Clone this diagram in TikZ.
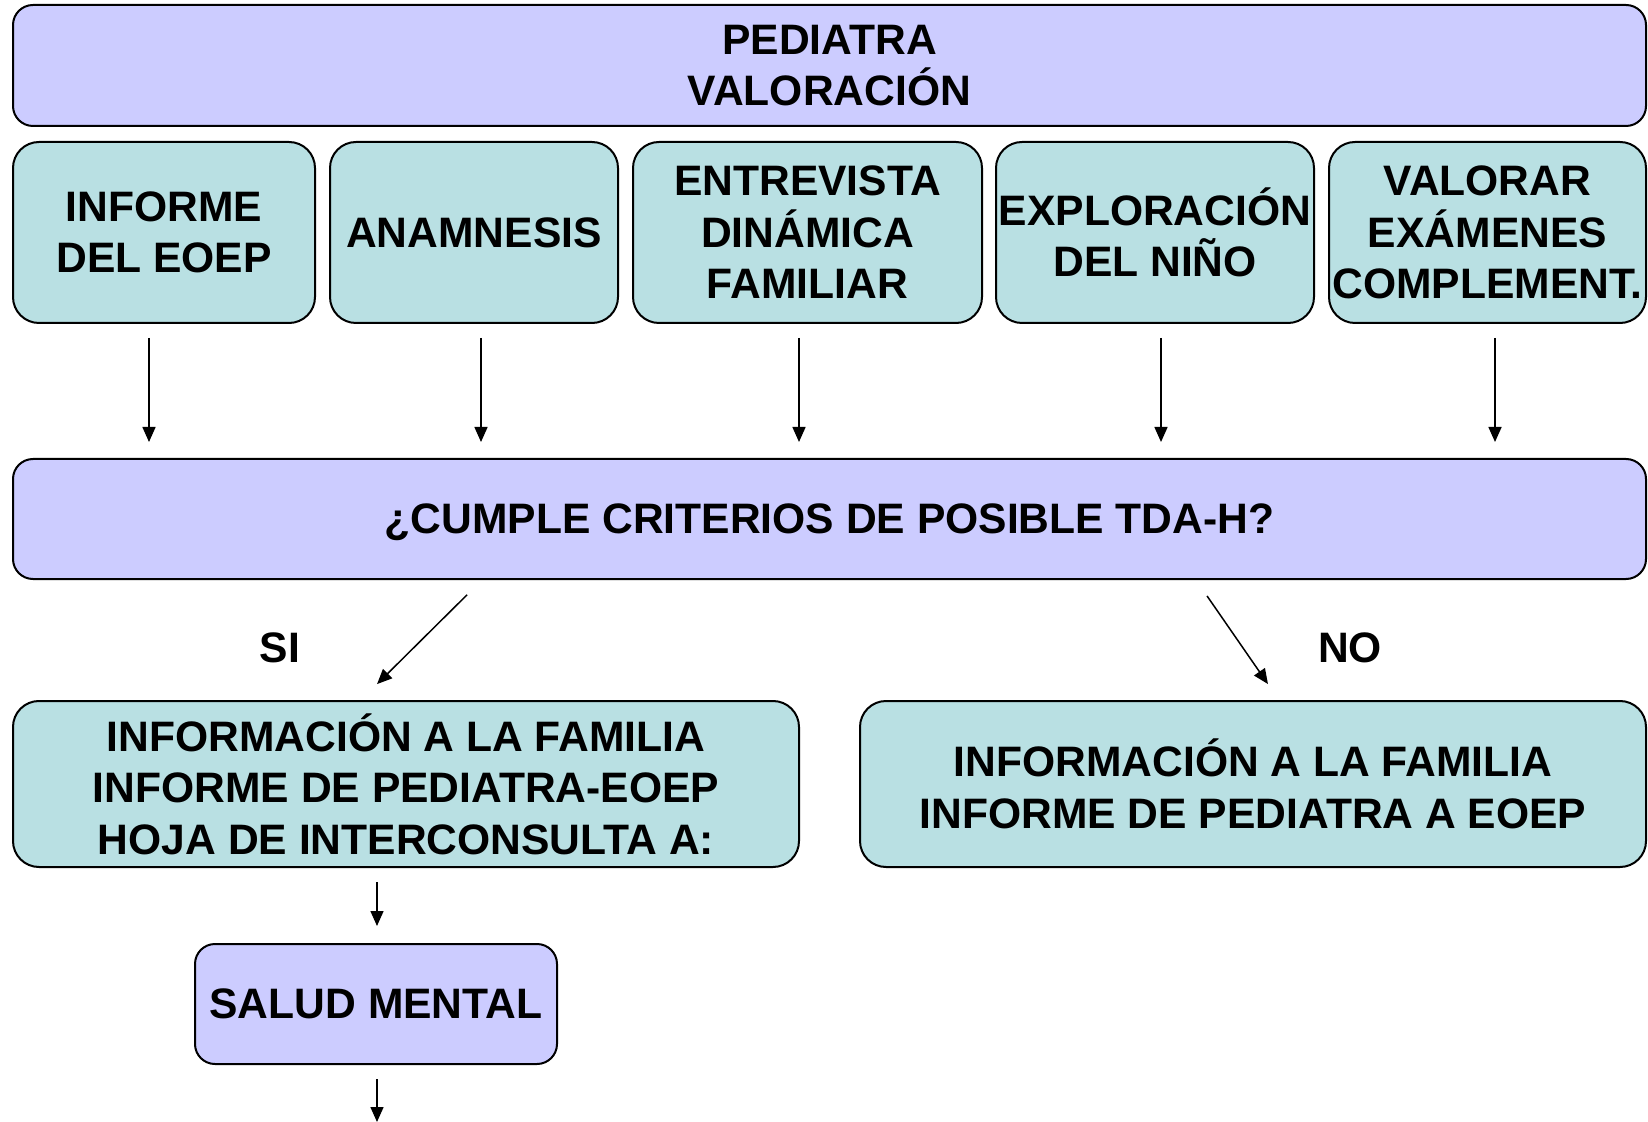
\documentclass[tikz,border=0pt]{standalone}
\usepackage{fontspec}
\setmainfont{Liberation Sans}
\usetikzlibrary{arrows.meta}
\definecolor{lavbox}{HTML}{CCCCFF}
\definecolor{tealbox}{HTML}{B9E0E3}
\begin{document}
\begin{tikzpicture}[x=0.5pt,y=-0.5pt,
  txt/.style={font=\fontsize{21.3pt}{25.7pt}\selectfont\bfseries, align=center, inner sep=0pt},
  lavb/.style={txt, draw=black, line width=1pt, fill=lavbox, rounded corners=#1},
  tealb/.style={txt, draw=black, line width=1pt, fill=tealbox, rounded corners=#1},
  arr/.style={line width=0.75pt, -{Triangle[length=7.5pt,width=6.5pt]}}]
\useasboundingbox (0,0) rectangle (1648,1122);
\fill[white] (0,0) rectangle (1648,1122);
% top
\node[lavb=10pt, minimum width=816.5pt, minimum height=60.5pt] (top) at (829.5,65.5) {PEDIATRA\\VALORACIÓN};
% row
\node[tealb=13pt, minimum width=151pt, minimum height=90.5pt] (b1) at (164,232.5) {INFORME\\DEL EOEP};
\node[tealb=13pt, minimum width=144pt, minimum height=90.5pt] (b2) at (474,232.5) {ANAMNESIS};
\node[tealb=13pt, minimum width=174.5pt, minimum height=90.5pt] (b3) at (807.5,232.5) {ENTREVISTA\\DINÁMICA\\FAMILIAR};
\node[tealb=13pt, minimum width=159pt, minimum height=90.5pt] (b4) at (1155,232.5) {EXPLORACIÓN\\DEL NIÑO};
\node[tealb=13pt, minimum width=158.5pt, minimum height=90.5pt] (b5) at (1487.5,232.5) {VALORAR\\EXÁMENES\\COMPLEMENT.};
% criteria
\node[lavb=10pt, minimum width=816.5pt, minimum height=60pt, text depth=0pt] (crit) at (829.5,519) {¿CUMPLE CRITERIOS DE POSIBLE TDA-H?};
% bottom boxes
\node[tealb=13pt, minimum width=393pt, minimum height=83pt] (left) at (406,784) {INFORMACIÓN A LA FAMILIA\\INFORME DE PEDIATRA-EOEP\\HOJA DE INTERCONSULTA A:};
\node[tealb=13pt, minimum width=393pt, minimum height=83pt] (right) at (1253,784) {INFORMACIÓN A LA FAMILIA\\INFORME DE PEDIATRA A EOEP};
\node[lavb=10pt, minimum width=181pt, minimum height=60pt] (salud) at (376,1004) {SALUD MENTAL};
% labels
\node[txt] (si) at (280,648) {SI};
\node[txt] (no) at (1350,648) {NO};
% arrow x positions
\coordinate (x1) at (149,0);
\coordinate (x2) at (481,0);
\coordinate (x3) at (799,0);
\coordinate (x4) at (1161,0);
\coordinate (x5) at (1495,0);
\coordinate (xs1) at (482,0);
\coordinate (xs2) at (361,0);
\coordinate (xn1) at (1196,0);
\coordinate (xn2) at (1279,0);
\coordinate (xv) at (377,0);
\coordinate (endv) at (377,1122);
\draw[arr, shorten <=7pt, shorten >=8pt] (b1.south -| x1) -- (crit.north -| x1);
\draw[arr, shorten <=7pt, shorten >=8pt] (b2.south -| x2) -- (crit.north -| x2);
\draw[arr, shorten <=7pt, shorten >=8pt] (b3.south -| x3) -- (crit.north -| x3);
\draw[arr, shorten <=7pt, shorten >=8pt] (b4.south -| x4) -- (crit.north -| x4);
\draw[arr, shorten <=7pt, shorten >=8pt] (b5.south -| x5) -- (crit.north -| x5);
\draw[arr, shorten <=10.5pt, shorten >=11.3pt] (crit.south -| xs1) -- (left.north -| xs2);
\draw[arr, shorten <=9.7pt, shorten >=9.7pt] (crit.south -| xn1) -- (right.north -| xn2);
\draw[arr, shorten <=7pt, shorten >=8.5pt] (left.south -| xv) -- (salud.north -| xv);
\draw[arr, shorten <=7pt] (salud.south -| xv) -- (endv);
\end{tikzpicture}
\end{document}
